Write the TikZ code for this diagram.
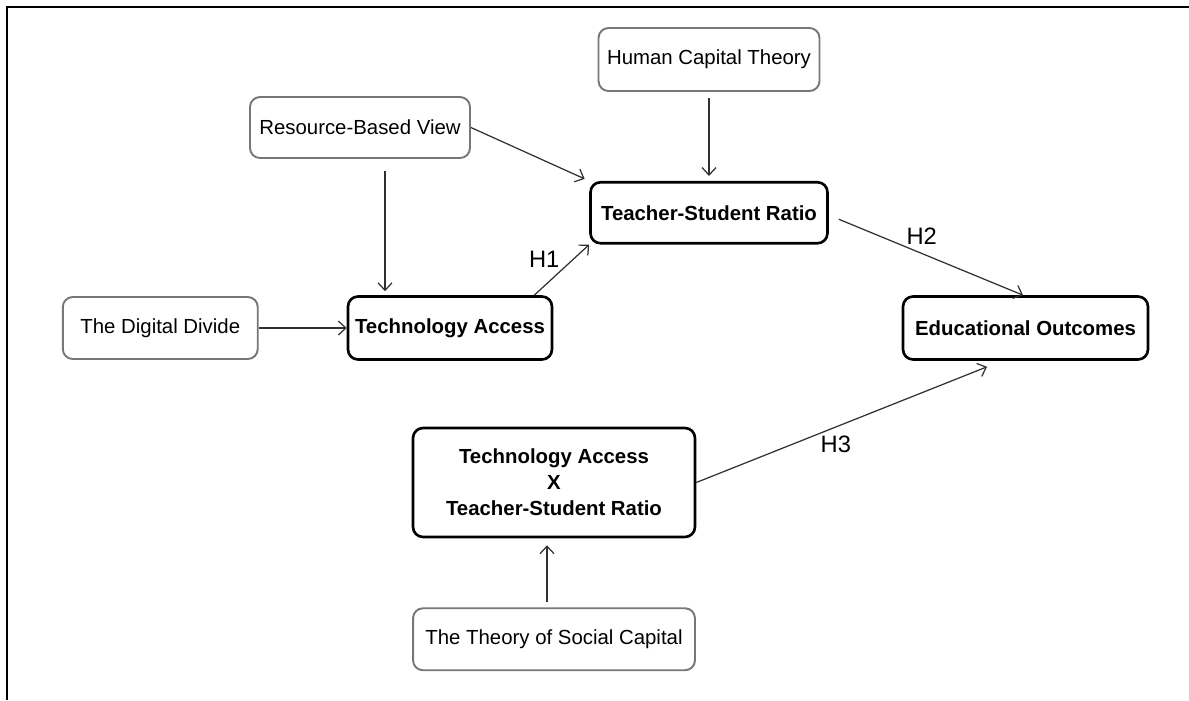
\documentclass[tikz,border=0pt]{standalone}
\usepackage{fontspec}
\setmainfont{Liberation Sans}
\usetikzlibrary{arrows.meta,positioning}

\definecolor{theoryline}{HTML}{777777}
\definecolor{linkline}{HTML}{303030}

\begin{document}
\begin{tikzpicture}[x=0.02cm, y=-0.02cm,
  every node/.style={rounded corners=0.2cm, inner sep=2pt, align=center, font=\fontsize{11.6}{14.7}\selectfont},
  theory/.style={draw=theoryline, line width=1.1pt},
  construct/.style={draw=black, line width=1.5pt, font=\fontsize{11.6}{14.7}\selectfont\bfseries},
  link/.style={draw=linkline, line width=0.7pt, -{Straight Barb[length=1.5mm,width=2.8mm]}},
  hyp/.style={font=\fontsize{13.5}{16}\selectfont}]
  \useasboundingbox (0,0) rectangle (1189,700);
  \draw[line width=1.3pt] (7,700) -- (7,7) -- (1189,7);

  \node[theory, minimum width=4.42cm, minimum height=1.26cm] (hct) at (709,59.5) {Human Capital Theory};
  \node[construct, minimum width=4.74cm, minimum height=1.22cm, below=1.78cm of hct] (tsr) {Teacher-Student Ratio};
  \node[theory, minimum width=4.4cm, minimum height=1.22cm] (rbv) at (360,127.5) {Resource-Based View};
  \node[construct, minimum width=4.08cm, minimum height=1.26cm] (ta) at (450,328) {Technology Access};
  \node[theory, minimum width=3.9cm, minimum height=1.24cm, left=1.76cm of ta] (dd) {The Digital Divide};
  \node[construct, minimum width=4.9cm, minimum height=1.26cm] (eo) at (1025.5,328) {Educational Outcomes};
  \node[construct, minimum width=5.64cm, minimum height=2.18cm] (inter) at (554,482.5) {Technology Access\\X\\Teacher-Student Ratio};
  \node[theory, minimum width=5.64cm, minimum height=1.24cm, below=1.38cm of inter] (tsc) {The Theory of Social Capital};

  \coordinate (rbvfoot) at ([xshift=0.5cm]rbv.south);
  \draw[link, shorten <=0.12cm, shorten >=0.1cm] (hct) -- (tsr);
  \draw[link, shorten >=0.1cm] (rbv.east) -- (tsr.north west);
  \draw[link, shorten <=0.24cm, shorten >=0.08cm] (rbvfoot) -- (rbvfoot |- ta.north);
  \draw[link] (dd) -- (ta);
  \draw[link] ([xshift=-0.38cm]ta.north east) -- (tsr.south west) node[hyp, midway, above left, inner sep=1pt] {H1};
  \draw[link] ([xshift=0.2cm,yshift=-0.13cm]tsr.east) -- ([xshift=-0.05cm]eo.north) node[hyp, pos=0.45, above, yshift=0.1cm] {H2};
  \draw[link] (inter.east) -- ([xshift=-0.77cm,yshift=-0.12cm]eo.south) node[hyp, pos=0.48, below, yshift=-0.1cm] {H3};
  \draw[link, shorten <=0.1cm, shorten >=0.14cm] ([xshift=-0.14cm]tsc.north) -- ([xshift=-0.14cm]inter.south);
\end{tikzpicture}
\end{document}
